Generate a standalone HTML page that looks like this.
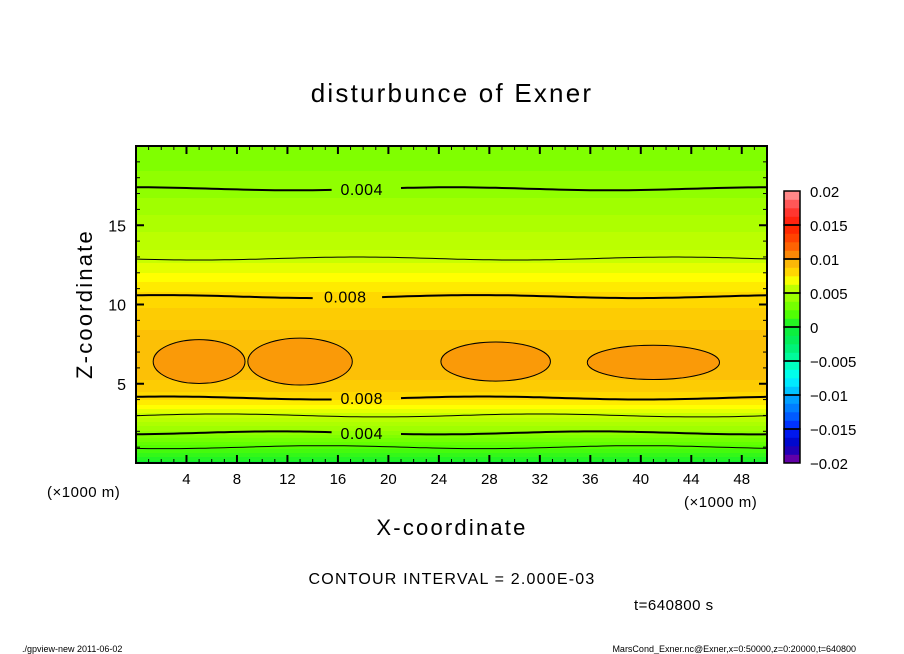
<!DOCTYPE html>
<html><head><meta charset="utf-8"><style>
body{margin:0;background:#fff;}
svg{display:block;font-family:"Liberation Sans",sans-serif;}
</style></head><body>
<svg id="c" width="904" height="654" viewBox="0 0 904 654"></svg>
<script>
// data
const profileZ = [0, 1.0, 1.9, 3.0, 4.1, 5.5, 6.5, 8.0, 10.5, 12.9, 17.3, 20];
const profileV = [0.0, 0.002, 0.004, 0.006, 0.008, 0.0089, 0.0091, 0.0089, 0.008, 0.006, 0.004, 0.0034];
const blobX = [5.0, 13.0, 28.5, 41.0];
const blobZ = [6.4, 6.4, 6.4, 6.35];
const blobRX = [3.6, 4.1, 4.3, 5.2];
const blobRZ = [1.35, 1.45, 1.2, 1.05];
const contourLevels = [0.002, 0.004, 0.006, 0.008];
const xTicks = [4,8,12,16,20,24,28,32,36,40,44,48];
const yTicks = [5,10,15];
const cbTicks = [0.02,0.015,0.01,0.005,0,-0.005,-0.01,-0.015,-0.02];
const cbLabels = ["0.02","0.015","0.01","0.005","0","\u22120.005","\u22120.01","\u22120.015","\u22120.02"];

const svg=document.getElementById('c');
const NS='http://www.w3.org/2000/svg';
function mk(t,a,p){const e=document.createElementNS(NS,t);for(const k in a)e.setAttribute(k,a[k]);(p||svg).appendChild(e);return e;}
const X0=136,X1=767,Y0=463,Y1=146;
const sx=v=>X0+(v/50)*(X1-X0);
const sy=v=>Y0-(v/20)*(Y0-Y1);
const cbY=v=>463-(v+0.02)/0.04*272;
const stops=[[-0.02,[128,0,160]],[-0.0175,[0,0,190]],[-0.015,[0,32,255]],[-0.0125,[0,110,255]],[-0.01,[0,176,255]],[-0.0075,[0,255,255]],[-0.005,[0,255,170]],[-0.0025,[0,238,102]],[0,[16,240,48]],[0.002,[85,255,0]],[0.0035,[128,255,0]],[0.0045,[160,255,0]],[0.006,[200,255,0]],[0.007,[255,255,0]],[0.008,[255,216,0]],[0.009,[252,192,6]],[0.0095,[250,180,8]],[0.01,[250,154,8]],[0.0125,[255,80,0]],[0.015,[255,26,0]],[0.0175,[255,64,64]],[0.02,[255,160,160]]];
function col(v,q){if(q!==false)v=Math.round(v/0.0005)*0.0005+0.0000001;v=Math.max(-0.02,Math.min(0.02,v));
 for(let i=0;i<stops.length-1;i++){if(v<=stops[i+1][0]){const f=(v-stops[i][0])/(stops[i+1][0]-stops[i][0]);const a=stops[i][1],b=stops[i+1][1];return 'rgb('+a.map((c,j)=>Math.round(c+(b[j]-c)*f)).join(',')+')';}}
 return 'rgb(255,160,160)';}
function prof(z){for(let i=0;i<profileZ.length-1;i++){if(z<=profileZ[i+1]){const f=(z-profileZ[i])/(profileZ[i+1]-profileZ[i]);return profileV[i]+(profileV[i+1]-profileV[i])*f;}}return profileV[profileV.length-1];}
function zAt(level,lower){
 for(let i=0;i<profileZ.length-1;i++){const a=profileV[i],b=profileV[i+1];
  if((lower&&a<=level&&b>=level&&b!==a)||(!lower&&a>=level&&b<=level&&b!==a)){return profileZ[i]+(level-a)/(b-a)*(profileZ[i+1]-profileZ[i]);}}
 return null;}
const g=mk('g',{});
for(let py=Y1;py<Y0;py+=1){const z=(Y0-py-0.5)/(Y0-Y1)*20;
 const r=mk('rect',{x:X0,y:py,width:X1-X0,height:1.2,fill:col(prof(z))},g);
 }
[true,false].forEach(outline=>{
for(let i=0;i<blobX.length;i++){
 const e=mk('ellipse',{cx:sx(blobX[i]),cy:sy(blobZ[i]),rx:blobRX[i]/50*(X1-X0),ry:blobRZ[i]/20*(Y0-Y1),fill:col(0.01,false),stroke:outline?'#000':'none','stroke-width':outline?2:0});
 }});
contourLevels.forEach(l=>{[true,false].forEach(lower=>{const z=zAt(l,lower);if(z===null)return;
 const y=sy(z);const thick=(Math.round(l*1000)%4===0);
 let lx=null;if(thick){lx=(!lower&&l===0.004)?sx(16.2):sx(16.2);if(!lower&&l===0.008)lx=sx(14.9);}
 let d='';let pen=false;
 for(let xv=0;xv<=50;xv+=0.5){const px=sx(xv);
  if(lx!==null&&px>lx-6&&px<lx+56){pen=false;continue;}
  d+=(pen?'L':'M')+px.toFixed(1)+','+(y+Math.sin(xv/4+z)*1.5).toFixed(1);pen=true;}
 const p=mk('path',{d:d,fill:'none',stroke:'#000','stroke-width':thick?2:1});
 
 if(thick){const t=mk('text',{x:lx,y:y+6,'font-size':16,'letter-spacing':'0.5'});t.textContent=l.toFixed(3);
  }
});});
mk('rect',{x:X0,y:Y1,width:X1-X0,height:Y0-Y1,fill:'none',stroke:'#000','stroke-width':2,});
for(let v=1;v<50;v++){const big=xTicks.includes(v);mk('line',{x1:sx(v),x2:sx(v),y1:Y0,y2:Y0-(big?8:4),stroke:'#000','stroke-width':big?2:1});mk('line',{x1:sx(v),x2:sx(v),y1:Y1,y2:Y1+(big?8:4),stroke:'#000','stroke-width':big?2:1});}
for(let v=1;v<20;v++){const big=yTicks.includes(v);mk('line',{x1:X0,x2:X0+(big?8:4),y1:sy(v),y2:sy(v),stroke:'#000','stroke-width':big?2:1});mk('line',{x1:X1,x2:X1-(big?8:4),y1:sy(v),y2:sy(v),stroke:'#000','stroke-width':big?2:1});}
xTicks.forEach(v=>{const t=mk('text',{x:sx(v),y:484,'font-size':15,'text-anchor':'middle'});t.textContent=v;});
yTicks.forEach(v=>{const t=mk('text',{x:126,y:sy(v)+6,'font-size':16,'text-anchor':'end'});t.textContent=v;});
for(let v=-0.02;v<0.0199;v+=0.00125){mk('rect',{x:784,y:cbY(v+0.00125),width:16,height:272/32+0.3,fill:col(v+0.0006,false)});}
for(let v=-0.02;v<0.0199;v+=0.005){mk('rect',{x:784,y:cbY(v+0.005),width:16,height:34,fill:'none',stroke:'#000','stroke-width':1.5});}
cbTicks.forEach((v,i)=>{const t=mk('text',{x:810,y:cbY(v)+6,'font-size':15});t.textContent=cbLabels[i];});
function txt(x,y,s,str,name,extra){const t=mk('text',Object.assign({x:x,y:y,'font-size':s},extra||{}));t.textContent=str;return t;}
txt(452,102,26,'disturbunce of Exner','chart-title',{'text-anchor':'middle','letter-spacing':'2.2'});
txt(452,535,22,'X-coordinate','x-axis-title',{'text-anchor':'middle','letter-spacing':'2.2'});
txt(0,0,22,'Z-coordinate','y-axis-title',{'text-anchor':'middle','letter-spacing':'2.2',transform:'translate(92,304) rotate(-90)'});
txt(47,497,15,'(\u00d71000 m)','x-unit-left',{'letter-spacing':'0.5'});
txt(684,507,15,'(\u00d71000 m)','x-unit-right',{'letter-spacing':'0.5'});
txt(452,584,16,'CONTOUR INTERVAL = 2.000E-03','contour-interval',{'text-anchor':'middle','letter-spacing':'1.2'});
txt(634,610,15,'t=640800 s','time-label',{'letter-spacing':'0.5'});
txt(22,652,9,'./gpview-new   2011-06-02','footer-left');
txt(856,652,9,'MarsCond_Exner.nc@Exner,x=0:50000,z=0:20000,t=640800','footer-right',{'text-anchor':'end'});
</script>
</body></html>
